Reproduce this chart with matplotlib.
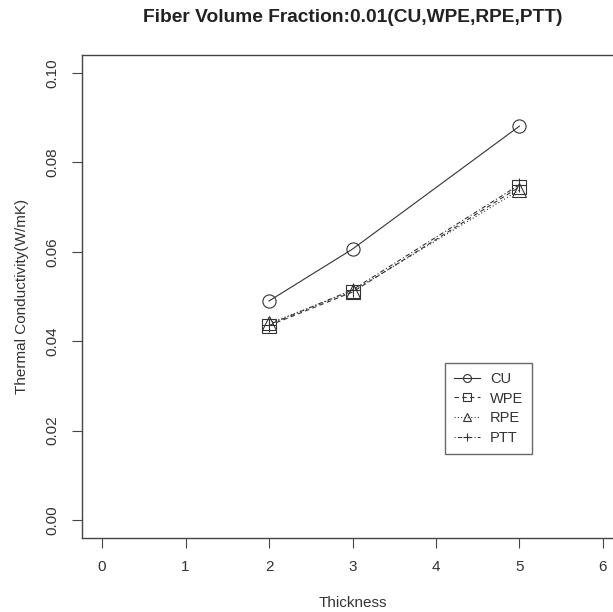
import matplotlib
matplotlib.use("Agg")
import matplotlib.pyplot as plt

plt.rcParams['font.family'] = ['Liberation Sans', 'DejaVu Sans']

thickness = [2, 3, 5]
cu = [0.0490, 0.0606, 0.0881]
wpe = [0.0435, 0.0510, 0.0745]
rpe = [0.0440, 0.0512, 0.0738]
ptt = [0.0437, 0.0515, 0.0750]

series = ['CU', 'WPE', 'RPE', 'PTT']
xticks = [0, 1, 2, 3, 4, 5, 6]
yticks = [0.00, 0.02, 0.04, 0.06, 0.08, 0.10]

W, H = 613, 612
fig = plt.figure(figsize=(W / 100, H / 100), dpi=100)
# plot region runs past the right edge of the figure
ax = fig.add_axes([82 / W, (H - 538) / H, (623 - 82) / W, (538 - 55) / H])

lc = '#333333'
styles = [
    dict(marker='o', linestyle='-'),
    dict(marker='s', linestyle=(0, (4, 3))),
    dict(marker='^', linestyle=(0, (1, 2))),
    dict(marker='+', linestyle=(0, (1, 2, 4, 2))),
]
for name, ys, st in zip(series, [cu, wpe, rpe, ptt], styles):
    ax.plot(thickness, ys, color=lc, lw=0.8, markersize=9.5,
            markerfacecolor='none', markeredgecolor=lc, markeredgewidth=0.8,
            label=name, **st)

ax.set_xlim(-0.24, 6.24)
ax.set_ylim(-0.004, 0.104)
ax.set_xticks(xticks)
ax.set_yticks(yticks)
ax.set_xticklabels([str(v) for v in xticks])
ax.set_yticklabels(['%.2f' % v for v in yticks], rotation=90, va='center')

for sp in ax.spines.values():
    sp.set_color('#444444')
    sp.set_linewidth(1.0)
ax.tick_params(direction='out', length=7, width=0.8, colors='#444444',
               labelsize=11, labelcolor='#333333', pad=9)

ax.set_xlabel('Thickness', fontsize=11, color='#333333', labelpad=16)
ax.set_ylabel('Thermal Conductivity(W/mK)', fontsize=11, color='#333333',
              labelpad=12)
fig.text((82 + 623) / 2 / W, 1 - 18 / H,
         'Fiber Volume Fraction:0.01(CU,WPE,RPE,PTT)',
         ha='center', va='center', fontsize=13.8, fontweight='bold',
         color='#222222')

leg = ax.legend(loc='upper left', bbox_to_anchor=((445 - 82) / 541, (538 - 363) / 483),
                frameon=True, fancybox=False, fontsize=10.5, handlelength=1.8,
                borderpad=0.6, labelspacing=0.4, handletextpad=0.7,
                borderaxespad=0, markerscale=0.6)
leg.get_frame().set_edgecolor('#444444')
leg.get_frame().set_linewidth(1.0)
for t in leg.get_texts():
    t.set_color('#333333')

fig.savefig('out.png', dpi=100)
